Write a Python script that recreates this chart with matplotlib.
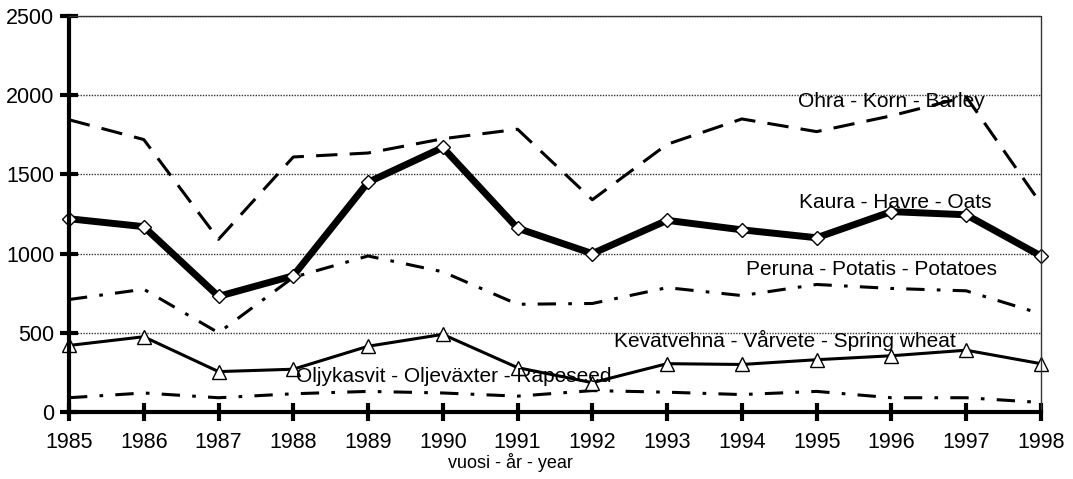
import numpy as np
import matplotlib
matplotlib.use('Agg')
import matplotlib.pyplot as plt

plt.rcParams['font.family'] = ['Liberation Sans', 'DejaVu Sans']

# ── Datos (vuosi - år - year) ────────────────────────────────────────────────
years = [1985, 1986, 1987, 1988, 1989, 1990, 1991, 1992, 1993, 1994, 1995, 1996, 1997, 1998]
barley   = [1845, 1720, 1090, 1610, 1635, 1725, 1785, 1340, 1690, 1850, 1770, 1870, 1990, 1315]
oats     = [1220, 1170, 730, 860, 1450, 1670, 1160, 1000, 1210, 1150, 1100, 1265, 1245, 985]
potatoes = [710, 775, 500, 850, 985, 885, 680, 685, 785, 735, 805, 780, 765, 620]
wheat    = [420, 475, 255, 270, 415, 490, 280, 185, 305, 300, 330, 355, 390, 305]
rapeseed = [90, 120, 90, 115, 130, 120, 100, 135, 125, 110, 130, 90, 90, 60]

labels = {
    'barley':   ('Ohra - Korn - Barley', 1996.0, 1960),
    'oats':     ('Kaura - Havre - Oats', 1996.05, 1320),
    'potatoes': ('Peruna - Potatis - Potatoes', 1995.73, 900),
    'wheat':    ('Kevätvehnä - Vårvete - Spring wheat', 1994.57, 450),
    'rapeseed': ('Öljykasvit - Oljeväxter - Rapeseed', 1990.15, 228),
}

# ── Figura ───────────────────────────────────────────────────────────────────
fig = plt.figure(figsize=(10.73, 4.79), dpi=100)
ax = fig.add_axes([0.0643, 0.1399, 0.9058, 0.8267])

ax.set_xlim(1985, 1998)
ax.set_ylim(0, 2500)

ax.yaxis.grid(True, linestyle=(0, (1, 1)), color='0.2', linewidth=1.0)
ax.set_axisbelow(True)

ax.plot(years, barley, color='black', linewidth=2.2, dashes=(7, 4), clip_on=False)
ax.plot(years, potatoes, color='black', linewidth=2.2, dashes=(6, 4, 1.2, 4), clip_on=False)
ax.plot(years, rapeseed, color='black', linewidth=2.2, dashes=(6, 4, 1.2, 4), clip_on=False)
ax.plot(years, oats, color='black', linewidth=5, marker='D', markersize=7,
        markerfacecolor='white', markeredgecolor='black', markeredgewidth=1.0, clip_on=False)
ax.plot(years, wheat, color='black', linewidth=2.2, marker='^', markersize=10,
        markerfacecolor='white', markeredgecolor='black', markeredgewidth=1.0, clip_on=False)

for key, (txt, xx, yy) in labels.items():
    ax.text(xx, yy, txt, fontsize=15, ha='center', va='center', color='black')

# ejes
for s in ['top', 'right']:
    ax.spines[s].set_linestyle((0, (1, 1)))
    ax.spines[s].set_linewidth(1.0)
    ax.spines[s].set_color('0.2')
ax.spines['left'].set_linewidth(3)
ax.spines['bottom'].set_linewidth(3)

ax.set_xticks(years)
ax.set_yticks(range(0, 2501, 500))
ax.tick_params(axis='both', direction='inout', length=13, width=3, labelsize=15.5)
ax.tick_params(axis='x', pad=8)
ax.tick_params(axis='y', pad=4)

fig.text(510 / 1073, 1 - 463 / 479, 'vuosi - år - year', fontsize=13, ha='center', va='center')

plt.savefig('out.png', dpi=100, facecolor='white')
